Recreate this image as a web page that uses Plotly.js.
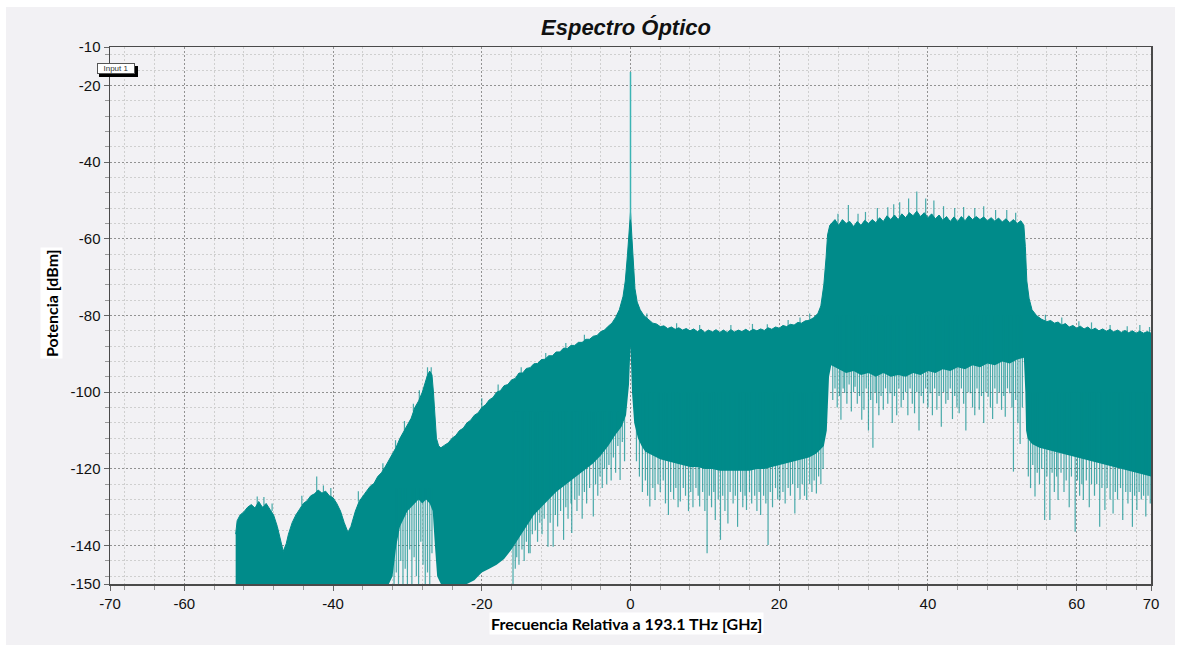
<!DOCTYPE html>
<html>
<head>
<meta charset="utf-8">
<script src="https://cdn.plot.ly/plotly-3.0.1.min.js"></script>
<style>
html,body{margin:0;padding:0;background:#ffffff;width:1180px;height:651px;overflow:hidden;}
#chart{position:absolute;left:6px;top:7px;width:1169px;height:638px;}
</style>
</head>
<body>
<div id="chart"></div>
<script>
// ---- Data ----
const chartTitle = "Espectro Óptico";
const xTitle = "Frecuencia Relativa a 193.1 THz [GHz]";
const yTitle = "Potencia [dBm]";
const seriesName = "Input 1";

const xTickVals = [-70,-60,-40,-20,0,20,40,60,70];
const xTickText = ["-70","-60","-40","-20","0","20","40","60","70"];
const yTickVals = [-10,-20,-40,-60,-80,-100,-120,-140,-150];
const yTickText = ["-10","-20","-40","-60","-80","-100","-120","-140","-150"];

// Upper envelope of the spectrum (GHz, dBm)
const upperFreq = [
-53.1,-52.9,-52.5,-52.0,-51.5,-51.0,-50.5,-50.0,-49.5,-49.0,
-48.5,-48.0,-47.5,-47.0,-46.7,-46.3,-46.0,-45.5,-45.0,-44.5,
-44.0,-43.5,-43.0,-42.5,-42.0,-41.5,-41.0,-40.5,-40.0,-39.5,
-39.0,-38.5,-38.0,-37.6,-37.0,-36.5,-36.0,-35.5,-35.0,-34.5,
-34.0,-33.5,-33.0,-32.5,-32.0,-31.5,-31.0,-30.5,-30.0,-29.5,
-29.0,-28.5,-28.0,-27.6,-27.3,-27.0,-26.7,-26.5,-26.3,-26.1,
-25.8,-25.5,-25.0,-24.5,-24.0,-23.5,-23.0,-22.5,-22.0,-21.5,
-21.0,-20.5,-20.0,-19.5,-19.0,-18.5,-18.0,-17.5,-17.0,-16.5,
-16.0,-15.5,-15.0,-14.5,-14.0,-13.5,-13.0,-12.5,-12.0,-11.5,
-11.0,-10.5,-10.0,-9.5,-9.0,-8.5,-8.0,-7.5,-7.0,-6.5,
-6.0,-5.5,-5.0,-4.5,-4.0,-3.5,-3.0,-2.5,-2.0,-1.5,
-1.0,-0.7,-0.4,-0.2,0.0,0.2,0.4,0.6,0.9,1.3,
1.8,2.5,3.0,3.5,4.0,4.5,5.0,5.5,6.0,6.5,
7.0,7.5,8.0,8.5,9.0,9.5,10.0,10.5,11.0,11.5,
12.0,12.5,13.0,13.5,14.0,14.5,15.0,15.5,16.0,16.5,
17.0,17.5,18.0,18.5,19.0,19.5,20.0,20.5,21.0,21.5,
22.0,22.5,23.0,23.5,24.0,24.6,25.2,25.6,26.0,26.3,
26.5,26.8,27.0,27.5,28.0,28.5,29.0,29.5,30.0,30.5,
31.0,31.5,32.0,32.5,33.0,33.5,34.0,34.5,35.0,35.5,
36.0,36.5,37.0,37.5,38.0,38.5,39.0,39.5,40.0,40.5,
41.0,41.5,42.0,42.5,43.0,43.5,44.0,44.5,45.0,45.5,
46.0,46.5,47.0,47.5,48.0,48.5,49.0,49.5,50.0,50.5,
51.0,51.5,52.0,52.5,52.9,53.1,53.3,53.6,54.0,54.6,
55.3,56.0,56.5,57.0,57.5,58.0,58.5,59.0,59.5,60.0,
60.5,61.0,61.5,62.0,62.5,63.0,63.5,64.0,64.5,65.0,
65.5,66.0,66.5,67.0,67.5,68.0,68.5,69.0,69.5,70.0];
const upperPower = [
-137,-133.5,-132,-131.2,-130,-129.3,-130.2,-128.5,-130,-129,
-130.5,-132,-135,-139,-141.5,-139.5,-137,-134,-132,-130.5,
-129,-128.3,-127,-126.5,-125.5,-126.3,-125.8,-127,-127.5,-129,
-131,-134,-136.5,-135,-131,-128.5,-127,-125.8,-124.5,-123.8,
-122,-121,-119.5,-117.8,-116,-114.3,-112,-110.3,-108.5,-106.8,
-104,-102.3,-100,-97.5,-95.5,-94.5,-95.5,-100,-108,-112,
-114,-114.5,-113.8,-113.2,-112,-111.3,-110,-109.4,-108,-107.3,
-106,-105.4,-104,-103.3,-102,-101.4,-100,-99.6,-98.3,-98,
-96.8,-96.4,-95,-95,-93.8,-93.6,-92.6,-92.5,-91.5,-91.4,
-90.5,-90.5,-89.5,-89.5,-88.5,-88.6,-87.8,-87.8,-87,-87,
-86.2,-86.2,-85.4,-85.2,-84.2,-83.8,-82.8,-82,-80.5,-78.5,
-75,-71,-64,-58,-53,-60,-68,-73,-76.5,-78.5,
-80,-81.2,-82,-82.2,-82.9,-82.7,-83.4,-83,-83.6,-83.2,
-83.8,-83.4,-84,-83.5,-84.2,-83.6,-84.4,-83.8,-84.3,-83.7,
-84.4,-83.8,-84.4,-83.7,-84.3,-83.8,-84.2,-83.6,-84.2,-83.6,
-84,-83.5,-83.9,-83.2,-83.6,-83,-83.3,-82.6,-82.9,-82.3,
-82.5,-81.8,-82,-81.4,-81.3,-80.6,-79.5,-77.5,-72,-65,
-59,-56.5,-56,-55,-56.5,-55,-56,-55.5,-56.8,-55.5,
-56.5,-55.2,-56,-55,-55.8,-54.5,-55.5,-54,-55,-53.8,
-55,-53.5,-54.5,-53.2,-54,-52.8,-54.2,-53.2,-54.5,-53.5,
-54.8,-53.8,-55.2,-54.2,-55.5,-54.3,-55.5,-54.2,-55.3,-54,
-55,-54.2,-55,-54.3,-55.3,-54.5,-55.4,-54.6,-55.6,-54.8,
-55.8,-55,-56,-55.3,-56.5,-62,-71,-75.5,-78.5,-80,
-81,-81.6,-81.3,-82,-81.7,-82.5,-82.1,-83,-82.6,-83.3,
-82.8,-83.5,-83,-83.8,-83.3,-84,-83.5,-84.1,-83.6,-84.3,
-83.8,-84.4,-83.9,-84.5,-84,-84.6,-84.1,-84.6,-84.2,-84.6];

// Lower (solid) envelope of the spectrum
const lowerFreq = [
-53.1,-32.5,-32.0,-31.5,-31.0,-30.5,-30.0,-29.5,-29.0,-28.5,
-28.0,-27.5,-27.0,-26.6,-26.3,-26.0,-25.5,-22.0,-21.0,-20.0,
-19.0,-18.0,-17.0,-16.0,-15.0,-14.0,-13.0,-12.0,-11.0,-10.0,
-9.0,-8.0,-7.0,-6.0,-5.0,-4.0,-3.0,-2.0,-1.2,-0.6,
-0.2,0.0,0.2,0.5,1.0,1.5,2.0,3.0,4.0,5.0,
6.0,7.0,8.0,9.0,10.0,11.0,12.0,13.0,14.0,15.0,
16.0,17.0,18.0,19.0,20.0,21.0,22.0,23.0,24.0,25.0,
26.0,26.4,26.7,27.0,28.0,29.0,30.0,31.0,32.0,33.0,
34.0,35.0,36.0,37.0,38.0,39.0,40.0,41.0,42.0,43.0,
44.0,45.0,46.0,47.0,48.0,49.0,50.0,51.0,52.0,52.9,
53.1,53.2,53.4,54.0,55.0,56.0,57.0,58.0,59.0,60.0,
61.0,62.0,63.0,64.0,65.0,66.0,67.0,68.0,69.0,70.0];
const lowerPower = [
-150,-150,-148,-140,-135,-133,-131,-130,-129,-128,
-129,-128,-129,-131,-140,-148,-150,-150,-149,-147,
-146,-145,-143.5,-141,-138,-135,-132,-130,-128,-126,
-124.5,-123,-121.5,-120,-118.5,-116.5,-114,-111,-109,-106,
-98,-88,-100,-108,-112,-114,-115.5,-116.5,-117.5,-118,
-118.5,-119,-119.5,-119.5,-120,-120,-120.5,-120.5,-120.5,-120.5,
-120.5,-120,-120,-119.5,-119,-118.5,-118,-117.5,-117,-116,
-114,-110,-96,-93,-94,-95,-94.5,-95.5,-95,-96,
-95,-96,-95.5,-96,-95,-95.5,-94.5,-95,-94,-94.5,
-93.5,-94,-93,-93.5,-92.5,-93,-92,-92.5,-91.5,-91,
-100,-110,-112,-113.5,-114.5,-115,-115.5,-116,-116.5,-117,
-117.5,-118,-118.5,-119,-119.5,-120,-120.5,-121,-121.5,-122];

// Downward noise spikes, grouped by band: a level inside the band, then spike frequencies and tip levels
const dnLevelA = -125;
const dnFreqA = [-31.8,-31.5,-31.2,-30.9,-30.6,-30.3,-30.0,-29.7,-29.4,-29.1,-28.8,-28.5,-28.2,-27.9,-27.6,-27.3,-27.0,-26.7];
const dnTipA  = [-150,-147,-150,-144,-150,-146,-150,-141,-150,-143,-148,-150,-139,-145,-150,-147,-150,-142];

const dnLevelC = -105;
const dnFreqC = [-15.8,-15.5,-15.3,-15.0,-14.6,-14.3,-14.0,-13.7,-13.5,-13.2,-12.8,-12.5,-12.2,-11.9,-11.6,-11.1,-10.8,-10.4,-10.1,-9.8,
  -9.4,-9.0,-8.7,-8.4,-8.0,-7.9,-7.5,-7.2,-6.9,-6.5,-6.2,-5.9,-5.5,-5.0,-4.7,-4.4,-4.1,-3.8,-3.5,-3.2,-2.9,-2.6,-2.3,-2.0,-1.7,-1.4,-1.1,-0.8];
const dnTipC  = [-150,-146,-143,-145,-141,-144,-139,-142,-142,-137,-136,-139,-134,-137,-133,-140.3,-134,-140.3,-132,-135,
  -131,-138.5,-130,-133,-129,-136.7,-128,-131,-127,-133,-126,-129,-125,-132.4,-124,-127,-122,-125,-120,-124,-119,-123,-117,-121,-114,-122.9,-113,-118];

const dnLevelD = -100;
const dnFreqD = [0.8,1.2,1.6,2.0,2.3,2.6,3.0,3.3,3.7,4.0,4.4,4.7,5.1,5.4,5.8,6.1,6.4,6.7,7.1,7.4,
  7.8,8.1,8.4,8.8,9.1,9.3,9.7,10.0,10.3,10.6,10.9,11.2,11.4,11.8,12.1,12.4,12.7,13.1,13.4,13.8,
  14.1,14.4,14.8,15.1,15.4,15.6,16.0,16.3,16.7,17.0,17.3,17.5,17.9,18.2,18.5,18.8,19.1,19.5,19.8,20.1,
  20.5,20.8,21.2,21.5,21.8,22.1,22.5,22.8,23.1,23.4,23.7,24.1,24.4,24.7,25.0,25.3,25.6,25.9];
const dnTipD  = [-118,-122,-126,-123,-127,-129.8,-125,-128.1,-124,-126,-123,-129,-132,-126,-128,-125,-130,-128.5,-125,-127,
  -131,-126,-130,-125,-127,-129.8,-126,-131,-142,-127,-130,-126,-133.3,-128,-138.5,-127,-131,-134.2,-126,-129,
  -127,-135.1,-126,-130,-127,-130.7,-126,-129,-127,-131,-126,-132,-127,-129,-139.8,-126,-130,-125,-128,-128.1,
  -126,-129,-125,-127,-124,-131.6,-125,-128,-124,-127,-128.1,-124,-126,-123,-126.4,-122,-124,-120];

const dnLevelE = -80;
const dnFreqE = [27.2,27.5,27.8,28.1,28.3,28.6,28.8,29.1,29.4,29.7,30.0,30.2,30.5,30.8,31.1,31.4,31.7,32.0,32.3,32.6,
  32.9,33.1,33.4,33.7,34.0,34.3,34.6,34.9,35.2,35.5,35.8,36.1,36.4,36.7,37.0,37.3,37.6,37.9,38.2,38.5,
  38.8,39.1,39.4,39.7,40.0,40.3,40.6,40.9,41.2,41.5,41.8,42.1,42.4,42.7,43.0,43.3,43.6,43.9,44.2,44.5,
  44.8,45.1,45.4,45.7,46.0,46.3,46.6,46.9,47.2,47.5,47.8,48.1,48.4,48.7,49.0,49.3,49.6,49.9,50.2,50.4,
  50.7,51.0,51.3,51.5,51.8,52.1,52.4,52.7];
const dnTipE  = [-102,-99,-104,-101,-107.2,-99,-100.2,-103,-98,-105,-100,-98.6,-103,-101,-107.2,-104.6,-99,-110,-102,-114.5,
  -100,-102.9,-106,-101,-104.6,-99,-103,-100.3,-108,-101,-106,-99,-104,-102,-100,-106,-99,-103,-105.5,-100,
  -110,-101,-102.9,-99,-104,-100.3,-106,-99,-104.6,-101,-109,-100,-103,-102,-99,-107,-101,-104,-105.5,-99,
  -103,-110,-100,-100.3,-104,-106,-99,-104.6,-101,-108,-100,-101.2,-104,-107,-99,-103,-100,-104.6,-101,-106.4,
  -99,-100.3,-104,-120.7,-102,-108,-113.5,-104];

const dnLevelF = -100;
const dnFreqF = [53.5,53.8,54.1,54.4,54.7,55.0,55.3,55.7,56.0,56.4,56.7,57.0,57.3,57.5,57.9,58.3,58.6,59.0,59.3,59.8,
  60.1,60.4,60.7,60.9,61.3,61.7,62.0,62.4,62.7,63.1,63.4,63.8,64.1,64.5,64.9,65.2,65.5,65.9,66.2,66.6,
  66.9,67.2,67.5,67.8,68.1,68.4,68.7,69.0,69.3,69.6,69.9];
const dnTipF  = [-122,-125,-119,-127.2,-121,-124,-120,-133.3,-122,-133.3,-121,-126,-122,-128.1,-121,-126,-123,-130,-122,-136.4,
  -123,-127,-124,-128.1,-123,-130,-124,-127,-124,-135.1,-125,-130.7,-125,-128,-131.6,-126,-128,-125,-133.3,-126,
  -129,-126,-135.1,-127,-130.7,-126,-128,-127,-132.4,-127,-129];

// Upward noise spikes: frequency, start level, tip level
const upSpikeFreq = [
-50.2,-49.3,-48.2,-44.2,-42.2,-41.3,-40.3,-36.6,-33.3,-31.6,-30.4,-29.2,-28.4,-27.3,-26.8,
-20.0,-17.8,-14.7,-11.4,-8.7,-6.2,
2.2,6.2,9.3,13.5,16.4,18.4,21.2,22.8,24.1,
27.9,29.3,30.6,31.6,33.2,34.6,35.4,36.2,37.4,38.5,39.7,40.8,42.1,43.6,44.8,46.3,47.5,49.1,50.6,51.8,
55.8,58.0,60.3,62.0,64.5,66.8,68.5,69.8];
const upSpikeBase = [
-129.5,-129.5,-131,-129.5,-126,-126,-127.5,-128.5,-120.5,-114.5,-110,-105,-102,-95.5,-95.5,
-104,-100,-95,-91.4,-88.6,-86.5,
-81,-83.6,-84,-83.8,-83.8,-83.5,-82.8,-82,-81.3,
-56,-56,-55.8,-55.5,-55.5,-54.5,-54.5,-54.5,-54,-53.5,-54,-54.5,-55,-55,-55,-55,-55,-55,-55.5,-55.8,
-81.6,-82.5,-83.2,-83.8,-84,-84.4,-84.5,-84.6];
const upSpikeTip = [
-127.2,-127.3,-129,-127,-122,-124.3,-125,-125.8,-118.5,-112.5,-107.5,-103,-99.5,-93.5,-93.5,
-101.6,-98,-93.5,-89.8,-87.2,-85,
-79.5,-82,-82.5,-82.5,-82.2,-82.3,-81.2,-80.5,-79.5,
-53.5,-51.2,-53.5,-53,-52,-51.8,-51,-50.5,-49.5,-47.7,-49.5,-50,-51.5,-52,-51.7,-52,-51.5,-52.5,-52.5,-53.2,
-79.8,-80.5,-81.5,-81.8,-82.5,-82.8,-82.5,-83];

// Carrier line at 0 GHz
const carrierFreq = [0];
const carrierFloor = [-55];
const carrierPeak = [-16.5];

// ---- Build traces ----
const teal = '#008b8a';
function segs(xs, a, b){
  const X = [], Y = [];
  for (let i = 0; i < xs.length; i++){ X.push(xs[i], xs[i], null); Y.push(a[i], b[i], null); }
  return {x: X, y: Y};
}
function segsLevel(xs, level, b){
  const X = [], Y = [];
  for (let i = 0; i < xs.length; i++){ X.push(xs[i], xs[i], null); Y.push(level, b[i], null); }
  return {x: X, y: Y};
}
const dnGroups = [
  segsLevel(dnFreqA, dnLevelA, dnTipA),
  segsLevel(dnFreqC, dnLevelC, dnTipC),
  segsLevel(dnFreqD, dnLevelD, dnTipD),
  segsLevel(dnFreqE, dnLevelE, dnTipE),
  segsLevel(dnFreqF, dnLevelF, dnTipF)
];
const dnX = [].concat(...dnGroups.map(g => g.x));
const dnY = [].concat(...dnGroups.map(g => g.y));
const up = segs(upSpikeFreq, upSpikeBase, upSpikeTip);
const car = segs(carrierFreq, carrierFloor, carrierPeak);

const spikeColor = 'rgba(0,139,138,0.7)';
const traces = [
  {x: lowerFreq, y: lowerPower, type:'scatter', mode:'lines', line:{width:0, color:teal}, hoverinfo:'skip', showlegend:false},
  {x: upperFreq, y: upperPower, type:'scatter', mode:'lines', fill:'tonexty', fillcolor:teal, line:{width:1, color:teal}, name: seriesName, showlegend:false},
  {x: dnX, y: dnY, type:'scatter', mode:'lines', line:{width:1.2, color:spikeColor}, hoverinfo:'skip', showlegend:false, connectgaps:false},
  {x: up.x, y: up.y, type:'scatter', mode:'lines', line:{width:1.2, color:spikeColor}, hoverinfo:'skip', showlegend:false, connectgaps:false},
  {x: car.x, y: car.y, type:'scatter', mode:'lines', line:{width:1.5, color:'#3cb4b4'}, hoverinfo:'skip', showlegend:false}
];

const W = 1169, H = 638;
const mL = 104, mT = 40, mR = 24, mB = 61;
const pw = W - mL - mR, ph = H - mT - mB;
function px2x(p){ return (p - 6 - mL) / pw; }
function py2y(p){ return 1 - (p - 7 - mT) / ph; }

const bg = '#f2f1f4';
const layout = {
  width: W, height: H,
  margin: {l: mL, r: mR, t: mT, b: mB},
  paper_bgcolor: bg, plot_bgcolor: bg,
  font: {family: 'Liberation Sans, Arial, sans-serif', color: '#111'},
  title: {text: chartTitle, x: px2x(626), xanchor: 'center', xref: 'paper', y: 1 - 20/H, yanchor: 'middle',
          font: {size: 22, weight: 'bold', style: 'italic', color: '#111', family: 'Liberation Sans, Arial, sans-serif'}},
  xaxis: {
    range: [-70, 70], tickmode: 'array', tickvals: xTickVals, ticktext: xTickText,
    showgrid: true, gridcolor: '#929292', griddash: '2px,2px', gridwidth: 1,
    minor: {tickmode: 'linear', tick0: 0, dtick: 4, showgrid: true, gridcolor: '#cfcfcf', griddash: '2px,2px', ticks: 'outside', ticklen: 4, tickcolor: '#9a9a9a'},
    ticks: 'outside', ticklen: 5, tickcolor: '#666',
    showline: true, linecolor: '#4a4a4a', linewidth: 1.5, mirror: true,
    zeroline: false, tickfont: {size: 15, color: '#111'}, fixedrange: true
  },
  yaxis: {
    range: [-150, -10], tickmode: 'array', tickvals: yTickVals, ticktext: yTickText,
    showgrid: true, gridcolor: '#929292', griddash: '2px,2px', gridwidth: 1,
    minor: {tickmode: 'linear', tick0: 0, dtick: 4, showgrid: true, gridcolor: '#cfcfcf', griddash: '2px,2px', ticks: 'outside', ticklen: 4, tickcolor: '#9a9a9a'},
    ticks: 'outside', ticklen: 5, tickcolor: '#666',
    showline: true, linecolor: '#4a4a4a', linewidth: 1.5, mirror: true,
    zeroline: false, tickfont: {size: 15, color: '#111'}, fixedrange: true
  },
  shapes: [
    {type: 'rect', xref: 'paper', yref: 'paper', x0: px2x(99), x1: px2x(138), y0: py2y(77), y1: py2y(66), fillcolor: '#000', line: {width: 0}, layer: 'above'}
  ],
  annotations: [
    {text: xTitle, xref: 'paper', yref: 'paper', x: px2x(626), y: py2y(623), xanchor: 'center', yanchor: 'middle', showarrow: false,
     font: {family: 'Lato, Carlito, sans-serif', size: 16, weight: 'bold', color: '#000'}, bgcolor: '#ffffff', borderpad: 1},
    {text: yTitle, xref: 'paper', yref: 'paper', x: px2x(51), y: py2y(303), xanchor: 'center', yanchor: 'middle', textangle: -90, showarrow: false,
     font: {family: 'Lato, Carlito, sans-serif', size: 16, weight: 'bold', color: '#000'}, bgcolor: '#ffffff', borderpad: 1},
    {text: seriesName, xref: 'paper', yref: 'paper', x: px2x(116), y: py2y(69), xanchor: 'center', yanchor: 'middle', showarrow: false,
     font: {family: 'Liberation Sans, Arial, sans-serif', size: 8, color: '#333'}, bgcolor: '#ffffff', bordercolor: '#555', borderwidth: 1, borderpad: 0, width: 36, height: 9}
  ],
  showlegend: false
};

Plotly.newPlot('chart', traces, layout, {displayModeBar: false, staticPlot: true});
</script>
</body>
</html>
